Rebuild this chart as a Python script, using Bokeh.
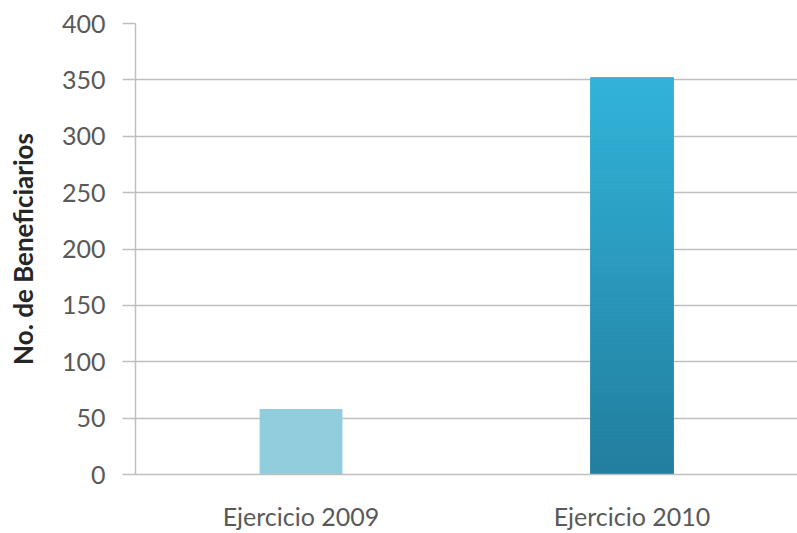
from bokeh.plotting import figure
from bokeh.models import ColumnDataSource, FixedTicker
from bokeh.embed import file_html
from bokeh.resources import INLINE

categories = ["Ejercicio 2009", "Ejercicio 2010"]
beneficiarios = [58, 352]
y_ticks = [0, 50, 100, 150, 200, 250, 300, 350, 400]
y_label = "No. de Beneficiarios"

color_2009 = "#92CDDD"
grad_top = (0x32, 0xB3, 0xDA)
grad_bottom = (0x22, 0x7E, 0x9E)

FONT = "Lato"

p = figure(x_range=categories, y_range=(0, 400), width=797, height=533,
           output_backend="svg", toolbar_location=None,
           min_border_left=135, min_border_right=0, min_border_top=23,
           min_border_bottom=59)
p.outline_line_color = None
p.background_fill_color = "white"
p.border_fill_color = "white"

# first bar: flat colour
p.vbar(x=[categories[0]], top=[beneficiarios[0]], bottom=0, width=0.25,
       fill_color=color_2009, line_color=None)

# second bar: vertical gradient built from slices of its own value
n = 100
val = beneficiarios[1]
xs, bots, tops, cols = [], [], [], []
for i in range(n):
    t = i / (n - 1)
    r = round(grad_bottom[0] + (grad_top[0] - grad_bottom[0]) * t)
    g = round(grad_bottom[1] + (grad_top[1] - grad_bottom[1]) * t)
    b = round(grad_bottom[2] + (grad_top[2] - grad_bottom[2]) * t)
    xs.append(categories[1])
    bots.append(val * i / n)
    tops.append(val * (i + 1) / n)
    cols.append("#%02x%02x%02x" % (r, g, b))
src = ColumnDataSource(dict(x=xs, bottom=bots, top=tops, color=cols))
p.vbar(x="x", bottom="bottom", top="top", width=0.25, fill_color="color",
       line_color="color", line_width=1, source=src)

p.xgrid.grid_line_color = None
p.ygrid.grid_line_color = "#BFBFBF"
p.ygrid.grid_line_width = 1.5
p.yaxis.ticker = FixedTicker(ticks=y_ticks)

p.yaxis.axis_line_color = "#BFBFBF"
p.yaxis.axis_line_width = 1.5
p.yaxis.major_tick_line_color = "#BFBFBF"
p.yaxis.major_tick_line_width = 1.5
p.yaxis.major_tick_out = 13
p.yaxis.major_tick_in = 0
p.yaxis.minor_tick_line_color = None
p.yaxis.major_label_standoff = 17
p.yaxis.major_label_text_font = FONT
p.yaxis.major_label_text_font_size = "25px"
p.yaxis.major_label_text_color = "#595959"
p.yaxis.axis_label = y_label
p.yaxis.axis_label_text_font = FONT
p.yaxis.axis_label_text_font_style = "bold"
p.yaxis.axis_label_text_font_size = "26px"
p.yaxis.axis_label_text_color = "#262626"
p.yaxis.axis_label_standoff = 20

p.xaxis.axis_line_color = "#BFBFBF"
p.xaxis.axis_line_width = 1.5
p.xaxis.major_tick_line_color = None
p.xaxis.minor_tick_line_color = None
p.xaxis.major_label_standoff = 20
p.xaxis.major_label_text_font = FONT
p.xaxis.major_label_text_font_size = "25px"
p.xaxis.major_label_text_color = "#595959"

open("out.html", "w").write(file_html(p, INLINE))
